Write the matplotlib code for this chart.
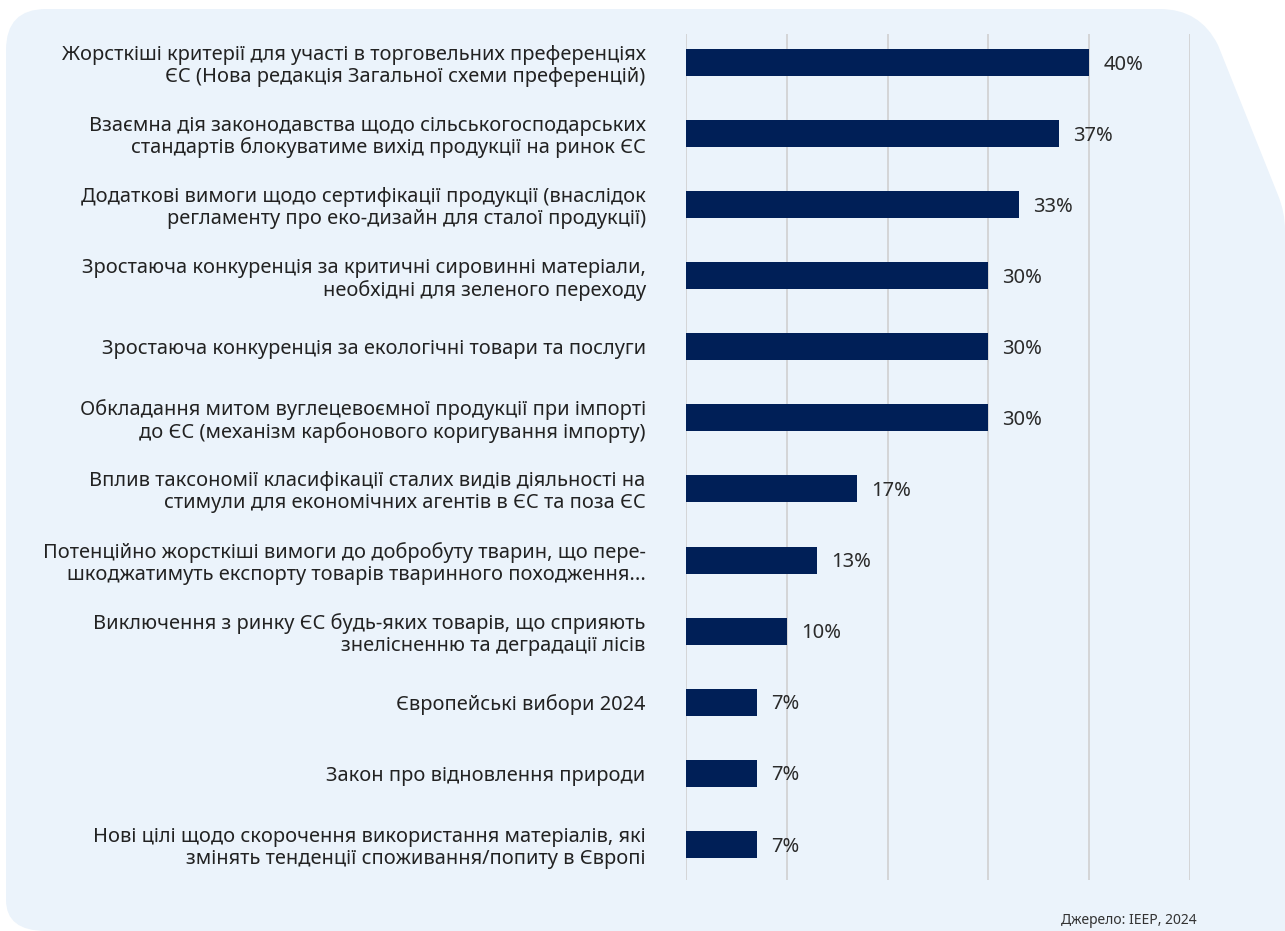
import matplotlib.pyplot as plt
from matplotlib.patches import PathPatch
from matplotlib.path import Path

plt.rcParams['font.family'] = ['Noto Sans', 'DejaVu Sans']

labels = [
    "Жорсткіші критерії для участі в торговельних преференціях\nЄС (Нова редакція Загальної схеми преференцій)",
    "Взаємна дія законодавства щодо сільськогосподарських\nстандартів блокуватиме вихід продукції на ринок ЄС",
    "Додаткові вимоги щодо сертифікації продукції (внаслідок\nрегламенту про еко-дизайн для сталої продукції)",
    "Зростаюча конкуренція за критичні сировинні матеріали,\nнеобхідні для зеленого переходу",
    "Зростаюча конкуренція за екологічні товари та послуги",
    "Обкладання митом вуглецевоємної продукції при імпорті\nдо ЄС (механізм карбонового коригування імпорту)",
    "Вплив таксономії класифікації сталих видів діяльності на\nстимули для економічних агентів в ЄС та поза ЄС",
    "Потенційно жорсткіші вимоги до добробуту тварин, що пере-\nшкоджатимуть експорту товарів тваринного походження...",
    "Виключення з ринку ЄС будь-яких товарів, що сприяють\nзнелісненню та деградації лісів",
    "Європейські вибори 2024",
    "Закон про відновлення природи",
    "Нові цілі щодо скорочення використання матеріалів, які\nзмінять тенденції споживання/попиту в Європі",
]
values = [40, 37, 33, 30, 30, 30, 17, 13, 10, 7, 7, 7]
grid_ticks = [0, 10, 20, 30, 40, 50]

W, H = 1285, 931
fig = plt.figure(figsize=(W / 100, H / 100), dpi=100)
fig.patch.set_facecolor('white')

# background panel (pixel coords -> figure coords)
def p(x, y):
    return (x / W, 1 - y / H)

verts = [p(6, 50), p(6, 9), p(46, 9),
         p(1160, 9), p(1200, 9), p(1218, 45),
         p(1278, 195), p(1285, 212), p(1285, 230),
         p(1285, 931), p(1285, 931), p(1285, 931),
         p(46, 931), p(6, 931), p(6, 900),
         p(6, 50)]
codes = [Path.MOVETO, Path.CURVE3, Path.CURVE3,
         Path.LINETO, Path.CURVE3, Path.CURVE3,
         Path.LINETO, Path.CURVE3, Path.CURVE3,
         Path.LINETO, Path.LINETO, Path.LINETO,
         Path.LINETO, Path.CURVE3, Path.CURVE3,
         Path.CLOSEPOLY]
fig.patches.append(PathPatch(Path(verts, codes), facecolor='#ebf3fb',
                             edgecolor='none', transform=fig.transFigure, zorder=-5))

ax = fig.add_axes([686 / W, 1 - 880 / H, 504 / W, 846 / H])
ax.set_facecolor('none')

y = list(range(len(values)))
ax.barh(y, values, height=0.38, color='#001f57', zorder=3)
for yi, v in zip(y, values):
    ax.text(v + 1.4, yi + 0.03, f"{v}%", va='center', ha='left', fontsize=14.5, color='#2b2b2b')

ax.set_xlim(0, 50)
ax.set_ylim(11.5, -0.4)
for g in grid_ticks:
    ax.axvline(g, color='#d4d5d7', lw=1.4, zorder=1)

ax.set_xticks([])
ax.set_yticks(y)
ax.set_yticklabels(labels, fontsize=14.4, color='#222222', ha='right',
                   multialignment='right', linespacing=1.12)
ax.tick_params(axis='y', length=0, pad=29)
for s in ax.spines.values():
    s.set_visible(False)

fig.text(1197 / W, 1 - 920 / H, "Джерело: IEEP, 2024", ha='right', va='center',
         fontsize=10, color='#333333')

fig.savefig('out.png', dpi=100, facecolor='white')
